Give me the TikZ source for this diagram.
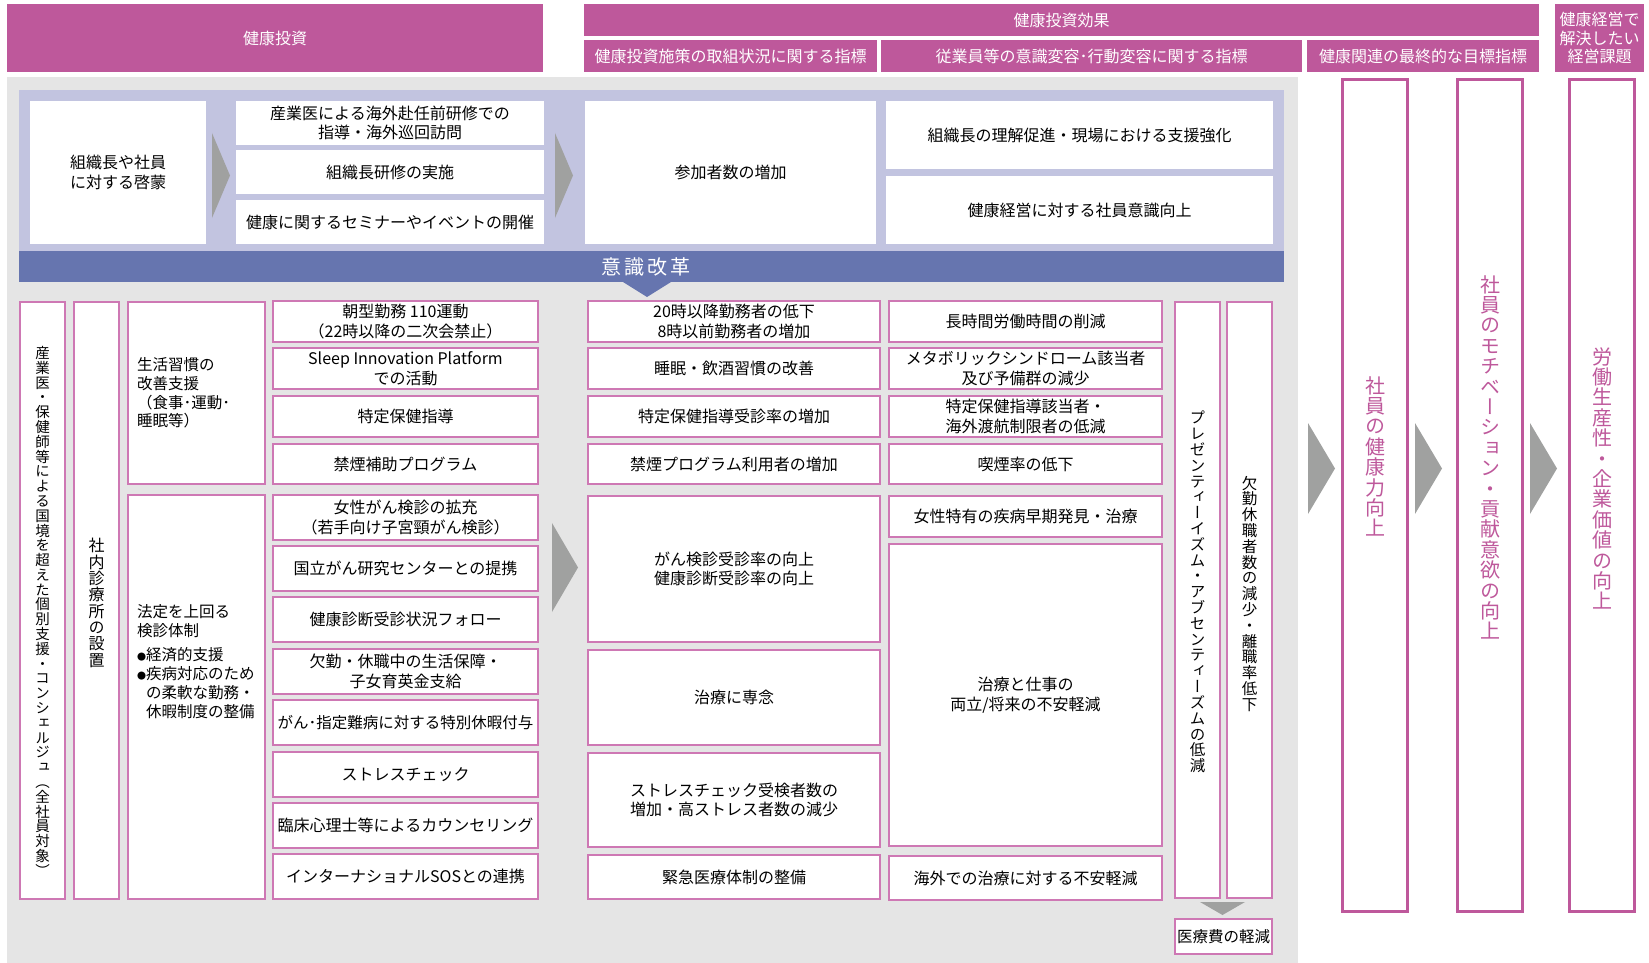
\documentclass[tikz,border=0pt]{standalone}
\usepackage{fontspec}
\setmainfont{Noto Sans CJK JP}
\newfontfamily\tatefont[RawFeature=+vert]{Noto Sans CJK JP}

\definecolor{hdrpink}{RGB}{190,88,155}
\definecolor{linepink}{RGB}{206,120,180}
\definecolor{bggrey}{RGB}{229,229,229}
\definecolor{lavender}{RGB}{194,196,224}
\definecolor{bandblue}{RGB}{102,117,175}
\definecolor{chevgrey}{RGB}{160,161,160}

\makeatletter
\newcommand\tate[1]{\vbox{\offinterlineskip\@tfor\tatech:=#1\do{\hbox to 1em{\vrule height .88em depth .14em width 0pt\hss\tatech\hss}}}}
\makeatother

\begin{document}
\begin{tikzpicture}[x=1pt, y=-1pt,
    hdr/.style={fill=hdrpink, text=white, inner sep=0pt, align=center, font=\fontsize{16}{18.5}\selectfont},
    topbox/.style={fill=white, inner sep=0pt, align=center, font=\fontsize{16}{19.5}\selectfont},
    cell/.style={draw=linepink, line width=1.2pt, fill=white, inner sep=0pt, align=center, font=\fontsize{16}{19.5}\selectfont},
    dcol/.style={cell, minimum width=265pt},
    ecol/.style={cell, minimum width=292pt},
    fcol/.style={cell, minimum width=273pt},
    vcell/.style={cell, minimum width=45pt, minimum height=597pt},
    tall/.style={draw=hdrpink, line width=3pt, fill=white, minimum width=65pt, minimum height=832pt},
    vtxt/.style={inner sep=0pt, font=\tatefont\fontsize{#1}{#1}\selectfont},
    chev/.style={fill=chevgrey}]
    \useasboundingbox (0,0) rectangle (1649,963);

    % Headers
    \node (hd_inv) [hdr, minimum width=536pt, minimum height=68pt] at (275,38) {健康投資};
    \node (hd_eff) [hdr, minimum width=955pt, minimum height=32pt] at (1061.5,20) {健康投資効果};
    \node (hd_sub1) [hdr, minimum width=293pt, minimum height=32pt] at (730.5,56) {健康投資施策の取組状況に関する指標};
    \node (hd_sub2) [hdr, minimum width=421pt, minimum height=32pt] at (1091.5,56) {従業員等の意識変容･行動変容に関する指標};
    \node (hd_sub3) [hdr, minimum width=232pt, minimum height=32pt] at (1423,56) {健康関連の最終的な目標指標};
    \node (hd_issue) [hdr, minimum width=89pt, minimum height=68pt] at (1599.5,38) {健康経営で\\解決したい\\経営課題};

    % Backgrounds
    \fill[bggrey] (7,77) rectangle (1298,963);
    \fill[lavender] (19,90) rectangle (1284,251);
    \fill[bandblue] (19,251) rectangle (1284,282);
    \fill[bandblue] (623,282) -- (671,282) -- (647,297) -- cycle;
    \node (kaikaku) [text=white, inner sep=0pt, font=\fontsize{20}{20}\selectfont] at (646,267) {意\hspace{3pt}識\hspace{3pt}改\hspace{3pt}革};

    % Top row
    \node (top_a) [topbox, minimum width=176pt, minimum height=143pt] at (118,172.5) {組織長や社員\\に対する啓蒙};
    \node (top_b1) [topbox, minimum width=308pt, minimum height=44pt] at (390,123) {産業医による海外赴任前研修での\\指導・海外巡回訪問};
    \node (top_b2) [topbox, minimum width=308pt, minimum height=44pt] at (390,172) {組織長研修の実施};
    \node (top_b3) [topbox, minimum width=308pt, minimum height=44pt] at (390,222) {健康に関するセミナーやイベントの開催};
    \node (top_c) [topbox, minimum width=291pt, minimum height=143pt] at (730.5,172.5) {参加者数の増加};
    \node (top_d1) [topbox, minimum width=387pt, minimum height=68pt] at (1079.5,135) {組織長の理解促進・現場における支援強化};
    \node (top_d2) [topbox, minimum width=387pt, minimum height=68pt] at (1079.5,210) {健康経営に対する社員意識向上};

    % Arrows
    \fill[chev] (212,133) -- (230,175.5) -- (212,218) -- cycle;
    \fill[chev] (555,133) -- (573,175.5) -- (555,218) -- cycle;

    % Left columns
    \node (col_a) [vcell] at (42.5,600.5) {};
    \node (col_a_txt) [vtxt=14.5] at (42.5,612) {\tate{産業医・保健師等による国境を超えた個別支援・コンシェルジュ（全社員対象）}};
    \node (col_b) [vcell] at (96.5,600.5) {};
    \node (col_b_txt) [vtxt=16] at (96.5,603) {\tate{社内診療所の設置}};
    \node (col_c1) [cell, minimum width=137pt, minimum height=182pt, text width=119pt, align=left, font=\fontsize{15.5}{18.7}\selectfont] at (196.5,393) {生活習慣の\\改善支援\\（食事･運動･\\睡眠等）};
    \node (col_c2) [cell, minimum width=137pt, minimum height=404pt] at (196.5,697) {};
    \node (col_c2_txt) [anchor=north west, inner sep=0pt, align=left, font=\fontsize{15.5}{19}\selectfont] at (137,604) {法定を上回る\\検診体制\\[5pt]\makebox[9pt][l]{\fontsize{9}{9}\selectfont●}経済的支援\\\makebox[9pt][l]{\fontsize{9}{9}\selectfont●}疾病対応のため\\\hspace*{9pt}の柔軟な勤務・\\\hspace*{9pt}休暇制度の整備};

    % Measures
    \node (d1) [dcol, minimum height=41pt] at (405.5,321.5) {朝型勤務 110運動\\（22時以降の二次会禁止）};
    \node (d2) [dcol, minimum height=41pt] at (405.5,368.5) {Sleep Innovation Platform\\での活動};
    \node (d3) [dcol, minimum height=41pt] at (405.5,416.5) {特定保健指導};
    \node (d4) [dcol, minimum height=40pt] at (405.5,464) {禁煙補助プログラム};
    \node (d5) [dcol, minimum height=45pt] at (405.5,517.5) {女性がん検診の拡充\\（若手向け子宮頸がん検診）};
    \node (d6) [dcol, minimum height=45pt] at (405.5,568.5) {国立がん研究センターとの提携};
    \node (d7) [dcol, minimum height=45pt] at (405.5,619.5) {健康診断受診状況フォロー};
    \node (d8) [dcol, minimum height=45pt] at (405.5,671.5) {欠勤・休職中の生活保障・\\子女育英金支給};
    \node (d9) [dcol, minimum height=45pt, font=\fontsize{15.5}{19}\selectfont] at (405.5,722.5) {がん･指定難病に対する特別休暇付与};
    \node (d10) [dcol, minimum height=45pt] at (405.5,774.5) {ストレスチェック};
    \node (d11) [dcol, minimum height=45pt] at (405.5,825.5) {臨床心理士等によるカウンセリング};
    \node (d12) [dcol, minimum height=45pt] at (405.5,876.5) {インターナショナルSOSとの連携};

    \fill[chev] (552,523) -- (578,567.5) -- (552,612) -- cycle;

    % Indicators
    \node (e1) [ecol, minimum height=41pt] at (734,321.5) {20時以降勤務者の低下\\8時以前勤務者の増加};
    \node (e2) [ecol, minimum height=41pt] at (734,368.5) {睡眠・飲酒習慣の改善};
    \node (e3) [ecol, minimum height=41pt] at (734,416.5) {特定保健指導受診率の増加};
    \node (e4) [ecol, minimum height=40pt] at (734,464) {禁煙プログラム利用者の増加};
    \node (e5) [ecol, minimum height=146pt] at (734,569) {がん検診受診率の向上\\健康診断受診率の向上};
    \node (e6) [ecol, minimum height=95pt] at (734,697.5) {治療に専念};
    \node (e7) [ecol, minimum height=94pt] at (734,800) {ストレスチェック受検者数の\\増加・高ストレス者数の減少};
    \node (e8) [ecol, minimum height=44pt] at (734,877) {緊急医療体制の整備};

    \node (f1) [fcol, minimum height=41pt] at (1025.5,321.5) {長時間労働時間の削減};
    \node (f2) [fcol, minimum height=41pt] at (1025.5,368.5) {メタボリックシンドローム該当者\\及び予備群の減少};
    \node (f3) [fcol, minimum height=41pt] at (1025.5,416.5) {特定保健指導該当者・\\海外渡航制限者の低減};
    \node (f4) [fcol, minimum height=40pt] at (1025.5,464) {喫煙率の低下};
    \node (f5) [fcol, minimum height=41pt] at (1025.5,516.5) {女性特有の疾病早期発見・治療};
    \node (f6) [fcol, minimum height=302pt] at (1025.5,695) {治療と仕事の\\両立/将来の不安軽減};
    \node (f7) [fcol, minimum height=44pt] at (1025.5,878) {海外での治療に対する不安軽減};

    \node (pres) [vcell, minimum height=596pt] at (1197.5,600) {};
    \node (pres_txt) [vtxt=15.5] at (1197.5,592) {\tate{プレゼンティーイズム・アブセンティーズムの低減}};
    \node (absn) [vcell, minimum height=596pt] at (1249.5,600) {};
    \node (absn_txt) [vtxt=15.5] at (1249.5,594) {\tate{欠勤休職者数の減少・離職率低下}};
    \fill[chev] (1200,902) -- (1245,902) -- (1222.5,915) -- cycle;
    \node (cost) [cell, minimum width=97pt, minimum height=35pt, font=\fontsize{15.5}{19}\selectfont] at (1223.5,936.5) {医療費の軽減};

    % Goals
    \node (goal_a) [tall] at (1375,495.5) {};
    \node (goal_a_txt) [vtxt=20, text=hdrpink] at (1375,457) {\tate{社員の健康力向上}};
    \node (goal_b) [tall] at (1490,495.5) {};
    \node (goal_b_txt) [vtxt=20, text=hdrpink] at (1490,458) {\tate{社員のモチベーション・貢献意欲の向上}};
    \node (goal_c) [tall] at (1602,495.5) {};
    \node (goal_c_txt) [vtxt=20, text=hdrpink] at (1602,479) {\tate{労働生産性・企業価値の向上}};

    \fill[chev] (1308,423) -- (1335,468.5) -- (1308,514) -- cycle;
    \fill[chev] (1415,423) -- (1442,468.5) -- (1415,514) -- cycle;
    \fill[chev] (1530,423) -- (1557,468.5) -- (1530,514) -- cycle;
\end{tikzpicture}
\end{document}
